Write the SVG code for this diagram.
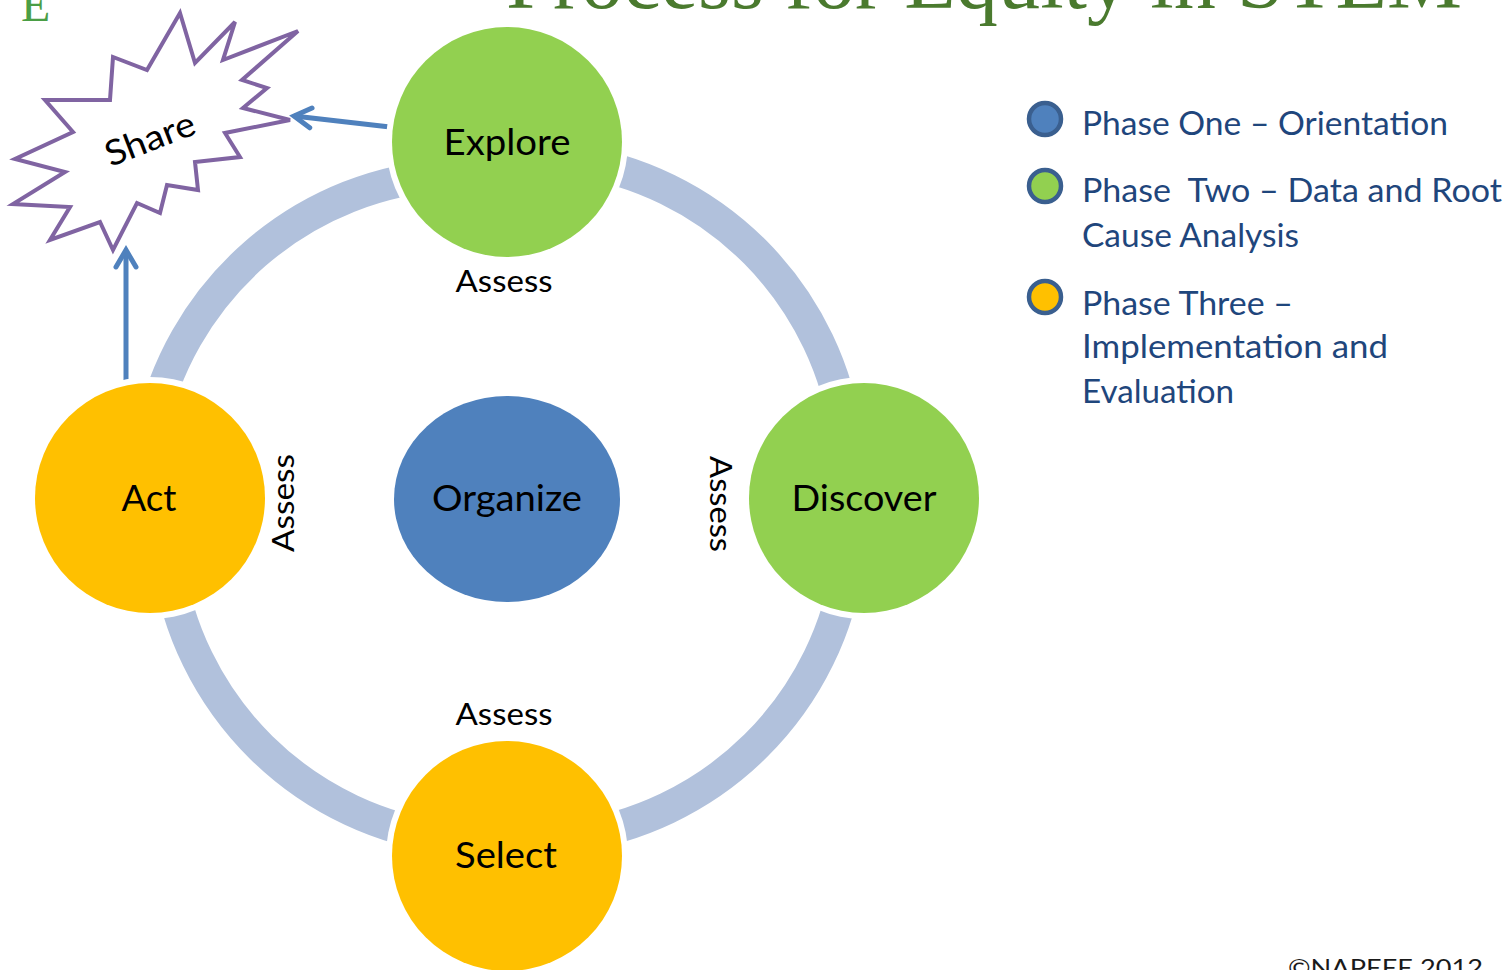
<svg xmlns="http://www.w3.org/2000/svg" width="1506" height="970" viewBox="0 0 1506 970">
  <style>
    .lbl { font-family: Lato, "Open Sans", sans-serif; fill: #000; text-anchor: middle; }
    .node { font-size: 37px; }
    .assess { font-size: 31px; }
    .leg { font-family: Lato, "Open Sans", sans-serif; font-size: 32px; fill: #1f467c; white-space: pre; }
    .halo { fill: #fff; }
    .ring { fill: none; stroke: #b1c1dc; stroke-width: 32; }
    .arrow { fill: none; stroke: #4f81bd; stroke-width: 5; marker-end: url(#ah); }
    .legdot { stroke: #3a5f8f; stroke-width: 4.5; }
  </style>
  <defs>
    <marker id="ah" markerUnits="userSpaceOnUse" markerWidth="40" markerHeight="40" viewBox="-20 -20 40 40" refX="0" refY="0" orient="auto" overflow="visible">
      <path d="M-17,-10 L0,0 L-17,10" fill="none" stroke="#4f81bd" stroke-width="5" stroke-linecap="round" stroke-linejoin="miter"/>
    </marker>
  </defs>
  <rect width="1506" height="970" fill="#fff"/>

  <g id="title">
    <text x="506" y="8" font-family="'Liberation Serif', serif" font-size="84" fill="#4a7a2e" textLength="956" lengthAdjust="spacingAndGlyphs">Process for Equity in STEM</text>
    <text x="21" y="21" font-family="'Liberation Serif', serif" font-size="48" fill="#4a9e45">E</text>
  </g>

  <g id="connectors">
    <path class="ring" d="M150.3,434.5 A324,324 0 0 1 449.3,174.6"/>
    <path class="ring" d="M569,159.6 A324,324 0 0 1 847,440.1"/>
    <path class="ring" d="M848.6,560 A324,324 0 0 1 568.7,837.1"/>
    <path class="ring" d="M450.4,838.6 A324,324 0 0 1 167.6,559.8"/>
    <line class="arrow" x1="390" y1="127" x2="294" y2="116"/>
    <line class="arrow" x1="126" y1="390" x2="126" y2="250"/>
  </g>

  <g id="share">
    <polygon points="180,13 195,63 235,22 223,60 298,31 242,80 267,88 243,108 290,120 225,133 240,157 195,162 198,190 167,185 160,213 137,203 113,250 100,222 50,240 70,207 13,204 65,172 15,159 73,132 45,100 110,100 113,57 147,70" fill="#fff" stroke="#8064a2" stroke-width="4" stroke-linejoin="miter"/>
    <text class="lbl" font-size="35" transform="translate(150,139) rotate(-21)" x="0" y="12" textLength="94" lengthAdjust="spacingAndGlyphs">Share</text>
  </g>

  <g id="explore">
    <circle class="halo" cx="507" cy="142" r="121"/>
    <circle cx="507" cy="142" r="115" fill="#92d050"/>
    <text class="lbl node" x="507" y="155" textLength="127" lengthAdjust="spacingAndGlyphs">Explore</text>
  </g>

  <g id="discover">
    <circle class="halo" cx="864" cy="498" r="121"/>
    <circle cx="864" cy="498" r="115" fill="#92d050"/>
    <text class="lbl node" x="864" y="511" textLength="145" lengthAdjust="spacingAndGlyphs">Discover</text>
  </g>

  <g id="select">
    <circle class="halo" cx="507" cy="856" r="121"/>
    <circle cx="507" cy="856" r="115" fill="#ffc000"/>
    <text class="lbl node" x="506" y="868" textLength="102" lengthAdjust="spacingAndGlyphs">Select</text>
  </g>

  <g id="act">
    <circle class="halo" cx="150" cy="498" r="121"/>
    <circle cx="150" cy="498" r="115" fill="#ffc000"/>
    <text class="lbl node" x="149" y="511" textLength="55" lengthAdjust="spacingAndGlyphs">Act</text>
  </g>

  <g id="organize">
    <ellipse cx="507" cy="499" rx="113" ry="103" fill="#4f81bd"/>
    <text class="lbl node" x="507" y="511" textLength="150" lengthAdjust="spacingAndGlyphs">Organize</text>
  </g>

  <g id="assess-labels">
    <text class="lbl assess" x="504" y="292" textLength="97" lengthAdjust="spacingAndGlyphs">Assess</text>
    <text class="lbl assess" x="504" y="725" textLength="97" lengthAdjust="spacingAndGlyphs">Assess</text>
    <text class="lbl assess" transform="translate(294,503) rotate(-90)" x="0" y="0" textLength="98" lengthAdjust="spacingAndGlyphs">Assess</text>
    <text class="lbl assess" transform="translate(710,504) rotate(90)" x="0" y="0" textLength="96" lengthAdjust="spacingAndGlyphs">Assess</text>
  </g>

  <g id="legend">
    <circle class="legdot" cx="1045" cy="119" r="16" fill="#4f81bd"/>
    <circle class="legdot" cx="1045" cy="186" r="16" fill="#92d050"/>
    <circle class="legdot" cx="1045" cy="297" r="16" fill="#ffc000"/>
    <text class="leg" x="1082" y="135" textLength="366" lengthAdjust="spacingAndGlyphs">Phase One – Orientation</text>
    <text class="leg" x="1082" y="202" textLength="420" lengthAdjust="spacingAndGlyphs">Phase  Two – Data and Root</text>
    <text class="leg" x="1082" y="247" textLength="217" lengthAdjust="spacingAndGlyphs">Cause Analysis</text>
    <text class="leg" x="1082" y="315" textLength="211" lengthAdjust="spacingAndGlyphs">Phase Three –</text>
    <text class="leg" x="1082" y="358" textLength="306" lengthAdjust="spacingAndGlyphs">Implementation and</text>
    <text class="leg" x="1082" y="403" textLength="152" lengthAdjust="spacingAndGlyphs">Evaluation</text>
  </g>

  <g id="footer">
    <text x="1288" y="976" font-family="Lato, 'Open Sans', sans-serif" font-size="23" fill="#1a1a1a" textLength="195" lengthAdjust="spacingAndGlyphs">©NAPEEE 2012</text>
  </g>
</svg>
